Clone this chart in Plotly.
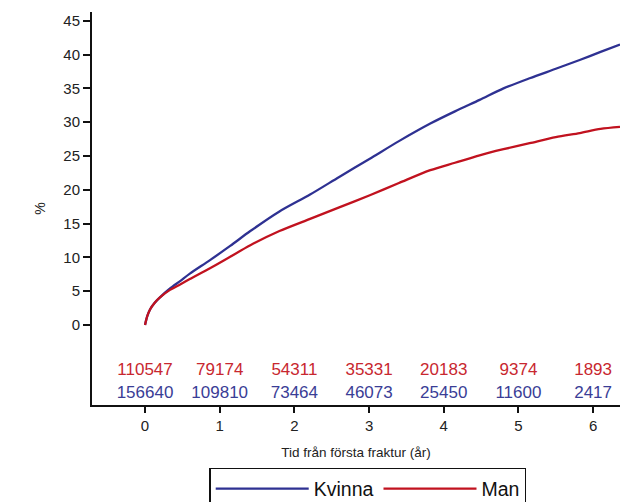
import plotly.graph_objects as go

# Cumulative incidence (%)
time_years = [0, 0.03, 0.067, 0.13, 0.2, 0.335, 0.47, 0.6, 0.87, 1.14, 1.41, 1.8, 2.21, 2.6,
              3.01, 3.4, 3.82, 4.15, 4.48, 4.8, 5.15, 5.5, 5.82, 6.1, 6.36]
kvinna_pct = [0, 1.3, 2.3, 3.3, 4.1, 5.4, 6.5, 7.6, 9.6, 11.7, 13.9, 16.8, 19.3, 21.9,
              24.6, 27.2, 29.8, 31.6, 33.3, 35.0, 36.5, 37.9, 39.2, 40.4, 41.5]
man_pct = [0, 1.3, 2.3, 3.3, 4.1, 5.2, 6.0, 6.8, 8.4, 10.1, 11.8, 13.9, 15.7, 17.4,
           19.2, 21.0, 22.9, 24.0, 25.1, 26.0, 26.9, 27.8, 28.4, 29.0, 29.3]

# Numbers at risk
risk_years = [0, 1, 2, 3, 4, 5, 6]
man_at_risk = [110547, 79174, 54311, 35331, 20183, 9374, 1893]
kvinna_at_risk = [156640, 109810, 73464, 46073, 25450, 11600, 2417]

y_ticks = [0, 5, 10, 15, 20, 25, 30, 35, 40, 45]
x_ticks = [0, 1, 2, 3, 4, 5, 6]

BLUE = "#2e3192"
RED = "#c1121f"
FONT = "Liberation Sans, Arial, sans-serif"

fig = go.Figure()
fig.add_trace(go.Scatter(x=time_years, y=kvinna_pct, mode="lines", name="Kvinna",
                         line=dict(color=BLUE, width=2.3, shape="spline", smoothing=0.8)))
fig.add_trace(go.Scatter(x=time_years, y=man_pct, mode="lines", name="Man",
                         line=dict(color=RED, width=2.3, shape="spline", smoothing=0.8)))
fig.add_trace(go.Scatter(x=risk_years, y=[-6.8] * len(risk_years), mode="text",
                         text=[str(v) for v in man_at_risk], showlegend=False,
                         textfont=dict(color="#c8272f", size=17, family=FONT), hoverinfo="skip"))
fig.add_trace(go.Scatter(x=risk_years, y=[-10.1] * len(risk_years), mode="text",
                         text=[str(v) for v in kvinna_at_risk], showlegend=False,
                         textfont=dict(color="#3a3d96", size=17, family=FONT), hoverinfo="skip"))

fig.update_layout(
    width=620, height=502,
    margin=dict(l=92, r=0, t=12, b=97, autoexpand=False),
    paper_bgcolor="white", plot_bgcolor="white",
    font=dict(family=FONT, color="#222222", size=15),
    showlegend=True,
    legend=dict(orientation="h", x=0.222, xanchor="left", y=-0.16, yanchor="top",
                bordercolor="#111111", borderwidth=1.5, font=dict(size=19.5, color="#111111"),
                itemwidth=93, tracegroupgap=0, bgcolor="white"),
    xaxis=dict(range=[-0.71, 6.36], tickvals=x_ticks, showgrid=False, zeroline=False,
               showline=True, linecolor="#111111", linewidth=2, ticks="outside",
               ticklen=6, tickwidth=2, tickcolor="#111111",
               tickfont=dict(size=15),
               title=dict(text="Tid från första fraktur (år)", font=dict(size=13.5), standoff=15)),
    yaxis=dict(range=[-11.83, 46.3], tickvals=y_ticks, showgrid=False, zeroline=False,
               showline=True, linecolor="#111111", linewidth=2, ticks="outside",
               ticklen=7, tickwidth=2, tickcolor="#111111",
               tickfont=dict(size=15),
               title=dict(text="%", font=dict(size=14), standoff=14)),
)

fig.write_html("out.html")
